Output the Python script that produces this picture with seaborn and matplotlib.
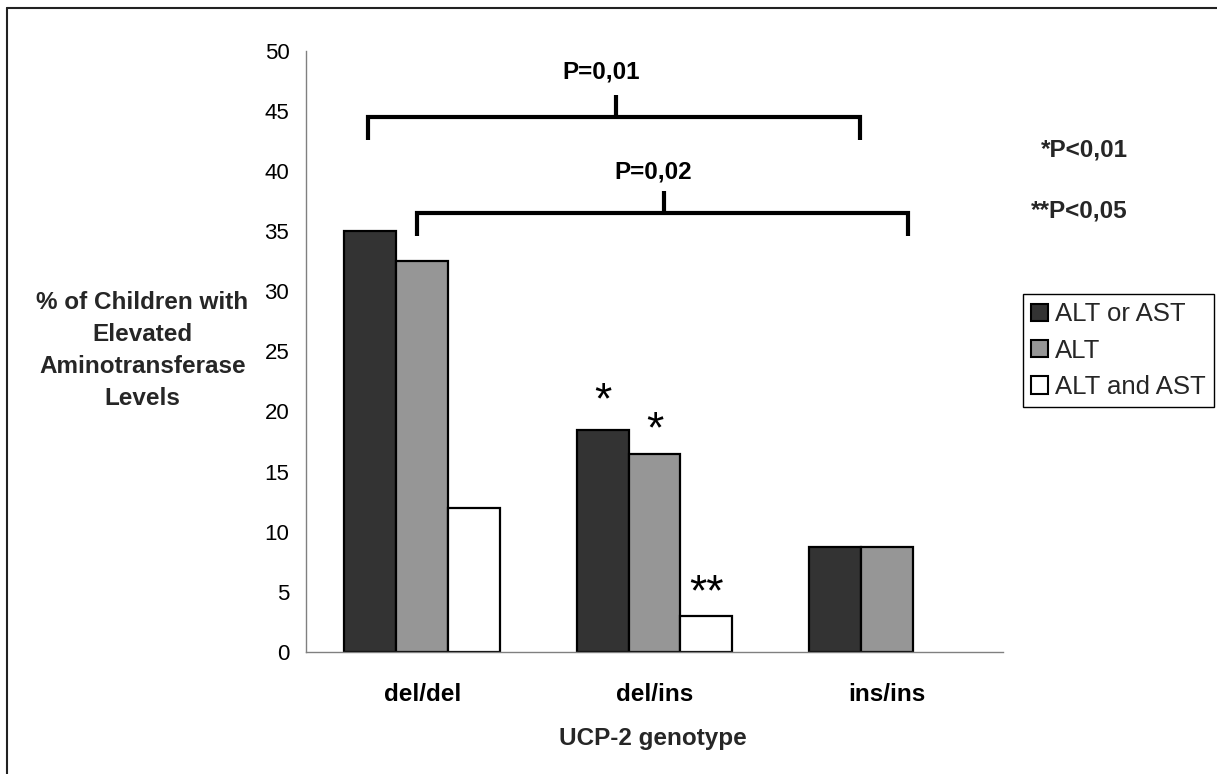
import numpy as np
import pandas as pd
import matplotlib
matplotlib.use("Agg")
import matplotlib.pyplot as plt
import seaborn as sns
from matplotlib.patches import Patch
from matplotlib.lines import Line2D

# ---------------- data ----------------
genotypes = ["del/del", "del/ins", "ins/ins"]
series = ["ALT or AST", "ALT", "ALT and AST"]
alt_or_ast = [35.0, 18.5, 8.7]
alt = [32.5, 16.5, 8.7]
alt_and_ast = [12.0, 3.0, np.nan]
colors = ["#333333", "#969696", "#ffffff"]
y_ticks = [0, 5, 10, 15, 20, 25, 30, 35, 40, 45, 50]
x_label = "UCP-2 genotype"
y_label = "% of Children with\nElevated\nAminotransferase\nLevels"
# significance stars: (series index, genotype index, text, offset in points)
stars = [(0, 1, "*", 12.0), (1, 1, "*", 8.4), (2, 1, "**", 7.6)]

df = pd.DataFrame({
    "genotype": genotypes * 3,
    "series": np.repeat(series, len(genotypes)),
    "value": alt_or_ast + alt + alt_and_ast,
})

sns.set_theme(style="white")
plt.rcParams["font.family"] = ["Liberation Sans", "DejaVu Sans"]

W, H = 1217, 774
fig = plt.figure(figsize=(W / 100, H / 100), dpi=100)
fig.patch.set_facecolor("white")
ax = fig.add_axes([306 / W, 1 - 652 / H, (1003 - 306) / W, (652 - 50.7) / H])

sns.barplot(data=df, x="genotype", y="value", hue="series",
            order=genotypes, hue_order=series, palette=colors,
            width=0.67, edgecolor="black", linewidth=1.6,
            errorbar=None, saturation=1, legend=False, ax=ax)

ax.set_xlim(-0.5, 2.5)
ax.set_ylim(0, 50)
ax.set_yticks(y_ticks)
ax.set_yticklabels([str(t) for t in y_ticks], fontsize=16)
ax.tick_params(axis="y", direction="out", length=4, width=1, color="#808080",
               pad=8, labelcolor="black")
ax.set_xticks(range(len(genotypes)))
ax.set_xticklabels(genotypes, fontsize=17.5, fontweight="bold")
ax.tick_params(axis="x", which="major", length=0, pad=22, labelcolor="black")
ax.set_xticks(np.arange(-0.5, len(genotypes), 1.0), minor=True)
ax.tick_params(axis="x", which="minor", direction="out", length=6, width=1,
               color="#808080")
for s in ["top", "right"]:
    ax.spines[s].set_visible(False)
for s in ["left", "bottom"]:
    ax.spines[s].set_color("#808080")
    ax.spines[s].set_linewidth(1)
ax.grid(False)

ax.set_xlabel(x_label, fontsize=17.5, fontweight="bold")
ax.xaxis.set_label_coords(0.498, -0.124)
ax.set_ylabel(y_label, fontsize=17.5, fontweight="bold", rotation=0,
              ha="center", va="center", linespacing=1.5)
ax.yaxis.set_label_coords(-0.235, 0.5006)

# stars above bars
for si, gi, txt, off in stars:
    patch = ax.containers[si][gi]
    xc = patch.get_x() + patch.get_width() / 2
    ax.annotate(txt, xy=(xc, patch.get_height()), xytext=(0, off),
                textcoords="offset points", ha="center", va="baseline",
                fontsize=32, color="black")

# comparison brackets
def bracket(x0, x1, xm, ylow, yh, ytop, xt, yt, label):
    ax.plot([x0, x0, x1, x1], [ylow, yh, yh, ylow], color="black", lw=3,
            clip_on=False, solid_joinstyle="miter", solid_capstyle="butt")
    ax.plot([xm, xm], [yh, ytop], color="black", lw=3, clip_on=False,
            solid_capstyle="butt")
    ax.text(xt, yt, label, ha="center", va="baseline", fontsize=17.5,
            fontweight="bold", color="black")

bracket(-0.233, 1.885, 0.834, 42.6, 44.5, 46.3, 0.77, 47.7, "P=0,01")
bracket(-0.022, 2.09, 1.041, 34.6, 36.5, 38.3, 0.994, 39.4, "P=0,02")

# p-value legend texts
fig.text(1128 / W, 1 - 156.7 / H, "*P<0,01", ha="right", va="baseline",
         fontsize=17.5, fontweight="bold")
fig.text(1128 / W, 1 - 217.7 / H, "**P<0,05", ha="right", va="baseline",
         fontsize=17.5, fontweight="bold")

# legend
handles = [Patch(facecolor=c, edgecolor="black", linewidth=1.5) for c in colors]
leg = fig.legend(handles, series, loc="upper left",
                 bbox_to_anchor=(1023 / W, 1 - 294 / H),
                 bbox_transform=fig.transFigure, borderaxespad=0,
                 fontsize=18.5, frameon=True, fancybox=False, shadow=False,
                 framealpha=1, edgecolor="black", borderpad=0.32,
                 handlelength=0.66, handleheight=0.66, handletextpad=0.25,
                 labelspacing=0.48)
leg.get_frame().set_linewidth(1)

# figure border (top and left)
fig.add_artist(Line2D([7 / W, 1], [1 - 7.5 / H, 1 - 7.5 / H],
                      transform=fig.transFigure, color="#222222", lw=1.5))
fig.add_artist(Line2D([7 / W, 7 / W], [0, 1 - 7.5 / H],
                      transform=fig.transFigure, color="#222222", lw=1.5))

fig.savefig("out.png", dpi=100, facecolor="white")
